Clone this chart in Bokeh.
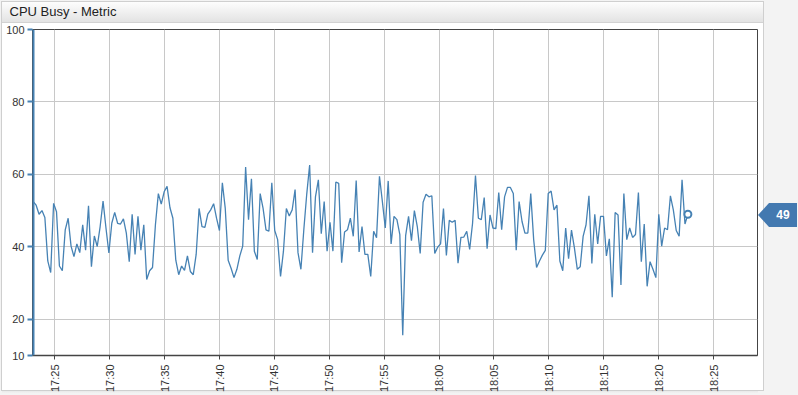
import math
from datetime import datetime, timedelta

from bokeh.plotting import figure
from bokeh.layouts import row
from bokeh.models import Range1d, FixedTicker, DatetimeTickFormatter, ColumnDataSource, Div, Span
from bokeh.embed import file_html
from bokeh.resources import INLINE

# ---------------- data ----------------
chart_title = "CPU Busy - Metric"
series_start = datetime(2024, 1, 1, 17, 23, 2)
step_seconds = 15.9
cpu_busy = [
    52.5, 51.5, 49.0, 50.0, 48.1, 36.1, 32.9, 52.0, 49.7, 34.7,
    33.4, 44.7, 47.9, 40.2, 37.3, 40.8, 38.4, 46.1, 39.1, 51.3,
    34.5, 43.0, 40.1, 45.6, 52.6, 45.2, 38.3, 46.5, 49.5, 46.5,
    46.3, 47.7, 43.8, 35.9, 49.0, 37.9, 48.4, 39.1, 46.1, 31.0,
    33.4, 34.3, 46.1, 54.7, 51.8, 55.2, 56.7, 50.8, 47.9, 36.3,
    32.3, 34.7, 33.5, 37.5, 33.2, 32.3, 37.9, 50.6, 45.6, 45.4,
    49.0, 50.2, 51.9, 47.9, 44.5, 57.7, 50.6, 36.3, 34.1, 31.5,
    33.8, 37.5, 40.2, 62.0, 47.5, 58.8, 38.8,
    36.5, 54.7, 50.6, 44.7, 44.3, 57.7, 44.5, 42.0, 31.8, 38.8,
    50.6, 48.5, 50.2, 55.8, 38.4, 33.8, 44.7, 54.5, 62.6, 38.4,
    53.8, 58.5, 43.6, 52.5, 38.8, 46.8, 38.8, 57.9, 57.5, 35.6,
    44.1, 44.7, 47.9, 42.9, 58.3, 38.6, 45.6, 37.9, 37.9, 31.8,
    44.3, 42.5, 59.5, 52.5, 45.2, 58.2, 40.8, 48.4, 47.5, 43.4,
    15.6, 43.1, 48.4, 41.7, 50.0, 45.6, 38.2, 52.3, 54.5, 53.8,
    54.1, 38.2, 39.9, 40.8, 50.6, 37.6, 47.3, 46.8, 47.3, 35.5,
    42.6, 42.7, 44.3, 39.3, 46.5, 59.7,
    47.9, 47.5, 53.6, 39.5, 48.8, 45.2, 45.0, 55.0, 44.7, 53.8,
    56.4, 56.4, 54.7, 39.1, 52.5, 47.0, 43.8, 43.8, 54.7, 42.0,
    34.3, 36.1, 37.7, 39.0, 54.7, 55.4, 50.2, 51.5, 36.1, 33.4,
    45.2, 36.7, 44.6, 39.7, 33.8, 34.5, 42.9, 46.1, 54.1, 35.4,
    49.0, 40.8, 48.4, 48.4, 37.5, 42.2, 26.1, 49.5, 48.8, 29.5,
    54.7, 42.0, 45.2, 42.6, 43.4, 55.0, 35.9, 46.3, 29.1, 35.9,
    33.8, 31.5, 49.0, 40.2, 45.2, 44.7, 54.1, 50.2, 44.5, 42.9,
    58.5, 46.3, 49.0,
]
times = [series_start + timedelta(seconds=step_seconds * i) for i in range(len(cpu_busy))]

x_min = datetime(2024, 1, 1, 17, 22, 58)
x_max = datetime(2024, 1, 1, 18, 29, 0)
x_tick_times = [datetime(2024, 1, 1, 17, 25) + timedelta(minutes=5 * k) for k in range(13)]
y_ticks = [10, 20, 40, 60, 80, 100]
y_min, y_max = 10, 100

LINE = "#4682b4"
BADGE = "#4379b0"
EPOCH = datetime(1970, 1, 1)


def ms(dt):
    return (dt - EPOCH).total_seconds() * 1000.0


def layer(color_a, color_b, x, y, w, h):
    return f"linear-gradient({color_a},{color_b}) {x}px {y}px / {w}px {h}px no-repeat"


# ---------------- figure ----------------
p = figure(width=758, height=395, x_axis_type="datetime",
           x_range=Range1d(x_min, x_max), y_range=Range1d(y_min, y_max),
           output_backend="svg", toolbar_location=None,
           min_border_left=32, min_border_right=1, min_border_top=29, min_border_bottom=40)
p.border_fill_color = None
p.background_fill_color = "white"
p.outline_line_color = "#444444"
p.outline_line_width = 1

# panel chrome painted behind the canvas
p.styles = {
    "background": ", ".join([
        layer("#d2d2d2", "#d2d2d2", 2, 22, 756, 1),
        layer("#fdfdfd", "#e3e3e3", 2, 2, 756, 20),
        layer("#ffffff", "#ffffff", 2, 2, 756, 388),
        layer("#cfcfcf", "#cfcfcf", 1, 1, 757, 390),
        layer("#e4e4e4", "#f2f2f2", 2, 390, 756, 3),
    ]) + ", #f3f3f3"
}

p.title.text = chart_title
p.title.align = "left"
p.title.offset = -23
p.title.standoff = 1
if "padding" in p.title.properties():
    p.title.padding = dict(left=0, right=0, top=0, bottom=10)
p.title.text_font = "Liberation Sans"
p.title.text_font_size = "13px"
p.title.text_font_style = "normal"
p.title.text_color = "#222222"

# axes
p.xaxis.ticker = FixedTicker(ticks=[ms(t) for t in x_tick_times])
p.xaxis.formatter = DatetimeTickFormatter(seconds="%H:%M", minsec="%H:%M", minutes="%H:%M",
                                          hourmin="%H:%M", hours="%H:%M", days="%H:%M")
p.xaxis.major_label_orientation = math.pi / 2
p.xaxis.axis_line_color = "#444444"
p.xaxis.axis_line_width = 1.5
p.xaxis.major_tick_line_color = "#444444"
p.xaxis.major_tick_out = 4
p.xaxis.major_tick_in = 0
p.xaxis.minor_tick_line_color = None
p.xaxis.major_label_text_font = "Liberation Sans"
p.xaxis.major_label_text_font_size = "11px"
p.xaxis.major_label_text_color = "#333333"
p.xaxis.major_label_standoff = 5

p.yaxis.ticker = FixedTicker(ticks=y_ticks)
p.yaxis.axis_line_color = None
p.yaxis.major_tick_line_color = LINE
p.yaxis.major_tick_line_width = 2
p.yaxis.major_tick_out = 5
p.yaxis.major_tick_in = 0
p.yaxis.minor_tick_line_color = None
p.yaxis.major_label_text_font = "Liberation Sans"
p.yaxis.major_label_text_font_size = "11px"
p.yaxis.major_label_text_color = "#333333"
p.yaxis.major_label_standoff = 3

p.xgrid.grid_line_color = "#c8c8c8"
p.ygrid.grid_line_color = "#c8c8c8"

# blue value-axis edge
p.add_layout(Span(location=ms(x_min), dimension="height", line_color=LINE, line_width=4,
                  level="overlay"))

# data
src = ColumnDataSource(dict(t=times, v=cpu_busy))
p.line("t", "v", source=src, line_color=LINE, line_width=1.3)
p.scatter([times[-1]], [cpu_busy[-1]], size=7, marker="circle", fill_color="white",
          line_color=LINE, line_width=2)

# right strip with the last-value badge
badge_html = (
    f'<div style="margin-top:203px; width:39px; height:24px; background:{BADGE}; '
    'clip-path: polygon(0 50%, 11px 0, 100% 0, 100% 100%, 11px 100%); '
    'box-sizing:border-box; padding-left:11px; text-align:center; line-height:24px; '
    'font-family:\'Liberation Sans\', Arial, sans-serif; font-size:12px; font-weight:bold; '
    f'color:white;">{round(cpu_busy[-1])}</div>'
)
side = Div(text=badge_html, width=40, height=395, margin=0,
           styles={
               "background": ", ".join([
                   layer("#d2d2d2", "#d2d2d2", 0, 22, 5, 1),
                   layer("#fdfdfd", "#e3e3e3", 0, 2, 5, 20),
                   layer("#ffffff", "#ffffff", 0, 2, 5, 388),
                   layer("#cfcfcf", "#cfcfcf", 0, 1, 6, 390),
               ]) + ", #f3f3f3",
               "padding": "0", "margin": "0", "overflow": "visible",
           })

layout = row(p, side, spacing=0)
open("out.html", "w").write(file_html(layout, INLINE))
